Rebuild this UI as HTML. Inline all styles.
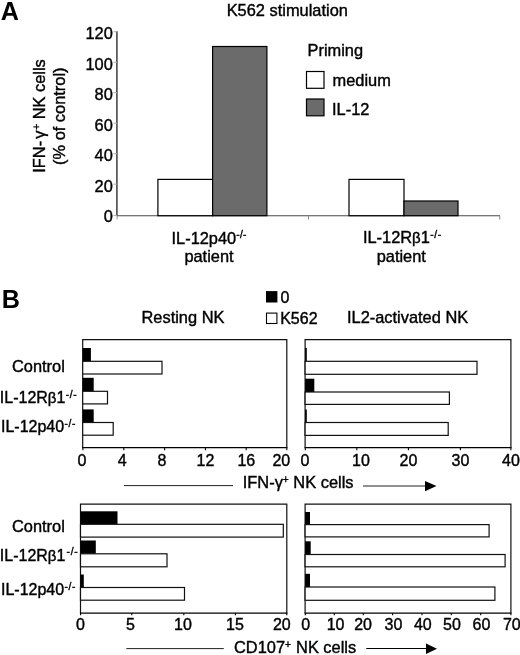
<!DOCTYPE html>
<html>
<head>
<meta charset="utf-8">
<style>
html,body{margin:0;padding:0;background:#fff;}
body{width:520px;height:655px;overflow:hidden;font-family:"Liberation Sans",sans-serif;}
svg{display:block;filter:grayscale(1);}
text{font-family:"Liberation Sans",sans-serif;font-size:16.4px;fill:#000;stroke:#000;stroke-width:0.4px;}
.b{font-weight:bold;font-size:25.2px;stroke:none;}
.sup{font-size:10.2px;}
.t text,text.r{font-size:16px;}
.beta{font-size:15px;}
.ax{stroke:#4a4a4a;fill:none;}
.k{stroke:#111;fill:none;stroke-width:1.2;}
.wb{fill:#fff;stroke:#111;stroke-width:1.2;}
.bb{fill:#000;stroke:none;}
</style>
</head>
<body>
<svg width="520" height="655" viewBox="0 0 520 655">
<rect x="0" y="0" width="520" height="655" fill="#fff"/>

<!-- ================= PANEL A ================= -->
<text class="b" x="0.7" y="19.9">A</text>
<text x="226.7" y="15.9">K562 stimulation</text>

<!-- y axis label -->
<text transform="translate(45,116) rotate(-90)" text-anchor="middle">IFN-<tspan dx="2.2">γ</tspan><tspan class="sup" dy="-5" dx="0.6">+</tspan><tspan dy="5"> NK cells</tspan></text>
<text transform="translate(64.6,116.2) rotate(-90)" text-anchor="middle">(% of control)</text>

<!-- axes -->
<line class="ax" x1="116.9" y1="31.2" x2="116.9" y2="216" stroke-width="1.6" stroke="#666"/>
<line class="ax" x1="116.4" y1="215.7" x2="500" y2="215.7" stroke-width="1.1"/>
<g class="ax" stroke-width="1">
<line x1="113.5" y1="31.7" x2="117" y2="31.7" stroke="#aaa"/>
<line x1="113.5" y1="62.2" x2="117" y2="62.2" stroke="#aaa"/>
<line x1="113.5" y1="92.7" x2="117" y2="92.7" stroke="#aaa"/>
<line x1="113.5" y1="123.2" x2="117" y2="123.2" stroke="#aaa"/>
<line x1="113.5" y1="153.7" x2="117" y2="153.7" stroke="#aaa"/>
<line x1="113.5" y1="184.2" x2="117" y2="184.2" stroke="#aaa"/>
<line x1="113.5" y1="215.4" x2="117" y2="215.4" stroke="#aaa"/>
<line x1="308.5" y1="215.4" x2="308.5" y2="219.5" stroke="#888"/>
<line x1="499.7" y1="215.4" x2="499.7" y2="219.5" stroke="#888"/>
<line x1="117.1" y1="215.4" x2="117.1" y2="219.5" stroke="#999"/>
</g>
<g text-anchor="end">
<text x="112.8" y="39.2">120</text>
<text x="112.8" y="69.7">100</text>
<text x="112.8" y="100.2">80</text>
<text x="112.8" y="130.7">60</text>
<text x="112.8" y="161.2">40</text>
<text x="112.8" y="191.7">20</text>
<text x="112.8" y="222.2">0</text>
</g>

<!-- bars A -->
<rect x="157.9" y="179.4" width="54.7" height="36.3" fill="#fff" stroke="#000" stroke-width="1.2"/>
<rect x="212.6" y="46.5" width="54.3" height="169.2" fill="#6b6b6b" stroke="#000" stroke-width="1.2"/>
<rect x="349" y="179.4" width="55" height="36.3" fill="#fff" stroke="#000" stroke-width="1.2"/>
<rect x="404" y="201" width="54" height="14.7" fill="#6b6b6b" stroke="#000" stroke-width="1.2"/>

<!-- x labels A -->
<text x="171.5" y="244">IL-12p40<tspan class="sup" dy="-5.6" dx="0" letter-spacing="0.3">-/-</tspan></text>
<text x="184.4" y="261.6">patient</text>
<text x="362.9" y="243">IL-12R<tspan class="beta">β</tspan>1<tspan class="sup" dy="-4.8" dx="0.3" letter-spacing="0.7">-/-</tspan></text>
<text x="376.7" y="262">patient</text>

<!-- legend A -->
<text x="307.5" y="56">Priming</text>
<rect x="306.5" y="71.5" width="17.5" height="16.8" fill="#fff" stroke="#000" stroke-width="1.2"/>
<text x="332.5" y="85.5">medium</text>
<rect x="306.5" y="99" width="17.5" height="16.8" fill="#6b6b6b" stroke="#000" stroke-width="1.2"/>
<text x="332" y="115">IL-12</text>

<!-- ================= PANEL B ================= -->
<text class="b" x="1.7" y="307.9">B</text>
<text x="141.5" y="323">Resting NK</text>
<rect x="266" y="291.1" width="11.4" height="11.4" fill="#000"/>
<text x="280.6" y="302.6" class="r">0</text>
<rect x="266.5" y="313.1" width="10.4" height="10.4" fill="#fff" stroke="#000" stroke-width="1.1"/>
<text x="280.2" y="323.8" class="r">K562</text>
<text x="347" y="323">IL2-activated NK</text>

<!-- row labels top -->
<text x="12" y="372">Control</text>
<text x="-0.2" y="402.7" class="r">IL-12R<tspan class="beta">β</tspan>1<tspan class="sup" dy="-4.8" dx="0.3" letter-spacing="0.7">-/-</tspan></text>
<text x="1" y="431.7" class="r">IL-12p40<tspan class="sup" dy="-4.8" dx="0.3" letter-spacing="0.7">-/-</tspan></text>

<!-- top-left chart -->
<g>
<path class="k" d="M82.7 447.6 V339.7 H286.8 V447.6"/>
<line x1="82.1" y1="447.6" x2="287.4" y2="447.6" stroke="#000" stroke-width="1.1"/>
<g stroke="#000" stroke-width="1.1">
<line x1="82.9" y1="447.6" x2="82.9" y2="450.3"/>
<line x1="123.8" y1="447.6" x2="123.8" y2="450.3"/>
<line x1="164.6" y1="447.6" x2="164.6" y2="450.3"/>
<line x1="205.4" y1="447.6" x2="205.4" y2="450.3"/>
<line x1="246.2" y1="447.6" x2="246.2" y2="450.3"/>
<line x1="286.8" y1="447.6" x2="286.8" y2="450.3"/>
</g>
<rect class="bb" x="82.7" y="348" width="8.2" height="13.3"/>
<rect class="wb" x="82.7" y="361.3" width="79.3" height="12.7"/>
<rect class="bb" x="82.7" y="377.8" width="11" height="13.5"/>
<rect class="wb" x="82.7" y="391.3" width="24.8" height="12.6"/>
<rect class="bb" x="82.7" y="409.4" width="11" height="13.1"/>
<rect class="wb" x="82.7" y="422.5" width="30.5" height="12.7"/>
</g>
<g class="t" text-anchor="middle">
<text x="82" y="465.6">0</text>
<text x="122.2" y="465.6">4</text>
<text x="162" y="465.6">8</text>
<text x="205.5" y="465.6">12</text>
<text x="246.3" y="465.6">16</text>
<text x="281.3" y="465.6">20</text>
</g>

<!-- top-right chart -->
<g>
<path class="k" d="M305.1 447.6 V339.7 H510.9 V447.6"/>
<line x1="304.5" y1="447.6" x2="511.5" y2="447.6" stroke="#000" stroke-width="1.1"/>
<g stroke="#000" stroke-width="1.1">
<line x1="305.3" y1="447.6" x2="305.3" y2="450.3"/>
<line x1="356.8" y1="447.6" x2="356.8" y2="450.3"/>
<line x1="408.4" y1="447.6" x2="408.4" y2="450.3"/>
<line x1="460.4" y1="447.6" x2="460.4" y2="450.3"/>
<line x1="510.9" y1="447.6" x2="510.9" y2="450.3"/>
</g>
<rect class="bb" x="305.1" y="348" width="1.7" height="13.3"/>
<rect class="wb" x="305.1" y="361.3" width="171.9" height="13"/>
<rect class="bb" x="305.1" y="378.7" width="9.2" height="13.3"/>
<rect class="wb" x="305.1" y="392" width="144.3" height="12.4"/>
<rect class="bb" x="305.1" y="409.5" width="1.7" height="13"/>
<rect class="wb" x="305.1" y="422.5" width="143.1" height="12.9"/>
</g>
<g class="t" text-anchor="middle">
<text x="305" y="465.6">0</text>
<text x="361" y="465.6">10</text>
<text x="408.5" y="465.6">20</text>
<text x="460.4" y="465.6">30</text>
<text x="511" y="465.6">40</text>
</g>

<!-- axis caption top -->
<line x1="124" y1="485.6" x2="233" y2="485.6" stroke="#222" stroke-width="1"/>
<text x="242.8" y="488.3">IFN-γ<tspan class="sup" dy="-5">+</tspan><tspan dy="5"> NK cells</tspan></text>
<line x1="363" y1="486" x2="427" y2="486" stroke="#222" stroke-width="1.2"/>
<path d="M425 481 L436.5 486 L425 491.3 Z" fill="#000"/>

<!-- row labels bottom -->
<text x="12" y="532">Control</text>
<text x="-0.2" y="561.3" class="r">IL-12R<tspan class="beta">β</tspan>1<tspan class="sup" dy="-5.9" dx="1.2" letter-spacing="0.7">-/-</tspan></text>
<text x="1" y="594.6" class="r">IL-12p40<tspan class="sup" dy="-4.8" dx="0.3" letter-spacing="0.7">-/-</tspan></text>

<!-- bottom-left chart -->
<g>
<path class="k" d="M80.5 613.1 V504.1 H286.8 V613.1"/>
<line x1="79.9" y1="613.1" x2="287.4" y2="613.1" stroke="#000" stroke-width="1.1"/>
<g stroke="#000" stroke-width="1.1">
<line x1="80.6" y1="613.1" x2="80.6" y2="615.3"/>
<line x1="131.8" y1="613.1" x2="131.8" y2="615.3"/>
<line x1="183.8" y1="613.1" x2="183.8" y2="615.3"/>
<line x1="235.4" y1="613.1" x2="235.4" y2="615.3"/>
<line x1="286.8" y1="613.1" x2="286.8" y2="615.3"/>
</g>
<rect class="bb" x="80.5" y="511.3" width="37" height="13"/>
<rect class="wb" x="80.5" y="524.3" width="202.8" height="12.8"/>
<rect class="bb" x="80.5" y="540.5" width="15.3" height="13.3"/>
<rect class="wb" x="80.5" y="553.8" width="86.5" height="13"/>
<rect class="bb" x="80.5" y="574.5" width="3.3" height="13"/>
<rect class="wb" x="80.5" y="587.5" width="104" height="12.7"/>
</g>
<g class="t" text-anchor="middle">
<text x="80.4" y="630.4">0</text>
<text x="130.5" y="630.4">5</text>
<text x="183" y="630.4">10</text>
<text x="235" y="630.4">15</text>
<text x="281.8" y="630.4">20</text>
</g>

<!-- bottom-right chart -->
<g>
<path class="k" d="M305.1 613.1 V504.1 H510.9 V613.1"/>
<line x1="304.5" y1="613.1" x2="511.5" y2="613.1" stroke="#000" stroke-width="1.1"/>
<g stroke="#000" stroke-width="1.1">
<line x1="305.3" y1="613.1" x2="305.3" y2="615.3"/>
<line x1="334.3" y1="613.1" x2="334.3" y2="615.3"/>
<line x1="363.3" y1="613.1" x2="363.3" y2="615.3"/>
<line x1="392.6" y1="613.1" x2="392.6" y2="615.3"/>
<line x1="422" y1="613.1" x2="422" y2="615.3"/>
<line x1="451.3" y1="613.1" x2="451.3" y2="615.3"/>
<line x1="480.7" y1="613.1" x2="480.7" y2="615.3"/>
<line x1="510.9" y1="613.1" x2="510.9" y2="615.3"/>
</g>
<rect class="bb" x="305.1" y="512" width="4.9" height="12.4"/>
<rect class="wb" x="305.1" y="524.6" width="184" height="12.3"/>
<rect class="bb" x="305.1" y="541.3" width="5.6" height="13.2"/>
<rect class="wb" x="305.1" y="554.5" width="200" height="12.3"/>
<rect class="bb" x="305.1" y="573.8" width="4.9" height="13.2"/>
<rect class="wb" x="305.1" y="587" width="189.8" height="13.3"/>
</g>
<g class="t" text-anchor="middle">
<text x="305.8" y="630.4">0</text>
<text x="335.6" y="630.4">10</text>
<text x="363.1" y="630.4">20</text>
<text x="393.4" y="630.4">30</text>
<text x="422.8" y="630.4">40</text>
<text x="452" y="630.4">50</text>
<text x="481.5" y="630.4">60</text>
<text x="511.8" y="630.4">70</text>
</g>

<!-- axis caption bottom -->
<line x1="126.3" y1="648.6" x2="223.8" y2="648.6" stroke="#222" stroke-width="1"/>
<text x="234" y="653">CD107<tspan class="sup" dy="-5">+</tspan><tspan dy="5" dx="0.5"> NK cells</tspan></text>
<line x1="366.3" y1="648.5" x2="428" y2="648.5" stroke="#000" stroke-width="1.2"/>
<path d="M426 643.5 L437 648.7 L426 654 Z" fill="#000"/>

</svg>
</body>
</html>
